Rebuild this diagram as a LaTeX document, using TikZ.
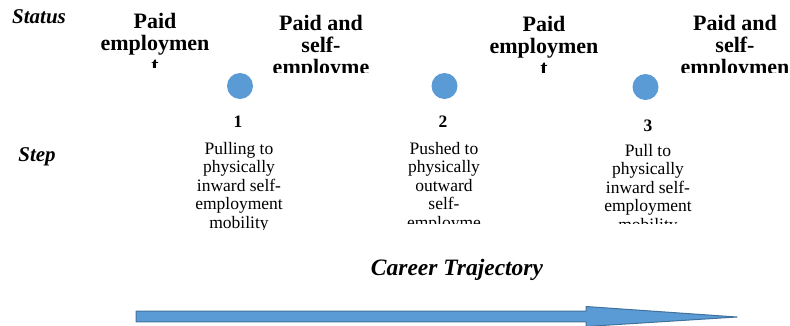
\documentclass[tikz,border=0pt]{standalone}
\usepackage{fontspec}
\setmainfont{Liberation Serif}
\definecolor{dotblue}{HTML}{5B9BD5}
\definecolor{edgeblue}{HTML}{41719C}
\begin{document}
\begin{tikzpicture}[x=1pt,y=-1pt,line join=round,
	status/.style={inner sep=0,align=center,anchor=north,font=\fontsize{22}{22}\selectfont\bfseries},
	stepno/.style={inner sep=0,font=\fontsize{17.5}{18.5}\selectfont\bfseries},
	stepbody/.style={inner sep=0,align=center,anchor=north,font=\fontsize{17.5}{18.5}\selectfont},
	rowlabel/.style={inner sep=0,font=\fontsize{21}{21}\selectfont\bfseries\itshape},
	dot/.style={circle,fill=dotblue,minimum size=26pt,inner sep=0}]
	\useasboundingbox (0,0) rectangle (790,325);
	\path (39,17)node[rowlabel](status){Status}
	(37,157)node[rowlabel](step){Step};
	% status boxes, cut off at the bottom
	\begin{scope}
	\clip (90,0) rectangle (220,67);
	\path (155,13)node[status](s1){Paid\\employmen\\t};
	\end{scope}
	\begin{scope}
	\clip (260,0) rectangle (385,72);
	\path (321,15)node[status](s2){Paid and\\self-\\employme};
	\end{scope}
	\begin{scope}
	\clip (480,0) rectangle (610,72);
	\path (544,16)node[status](s3){Paid\\employmen\\t};
	\end{scope}
	\begin{scope}
	\clip (670,0) rectangle (790,72);
	\path (735,15)node[status](s4){Paid and\\self-\\employmen};
	\end{scope}
	% steps
	\path (240,86)node[dot](d1){}
	(444.5,86)node[dot](d2){}
	(645.5,87)node[dot](d3){};
	\path (238,122)node[stepno](n1){1}
	(443,122)node[stepno](n2){2}
	(648,126)node[stepno](n3){3};
	\begin{scope}
	\clip (170,130) rectangle (310,229);
	\path (239,142)node[stepbody](b1){Pulling to\\physically\\inward self-\\employment\\mobility};
	\end{scope}
	\begin{scope}
	\clip (375,130) rectangle (515,223);
	\path (444,142)node[stepbody](b2){Pushed to\\physically\\outward\\self-\\employme};
	\end{scope}
	\begin{scope}
	\clip (580,130) rectangle (720,223);
	\path (648,144)node[stepbody](b3){Pull to\\physically\\inward self-\\employment\\mobility};
	\end{scope}
	% trajectory
	\path (457,270)node[inner sep=0,font=\fontsize{23.5}{23.5}\selectfont\bfseries\itshape](career){Career Trajectory};
	\path (136,316.5)coordinate(tail) (737,317)coordinate(tip);
	\filldraw[fill=dotblue,draw=edgeblue,line width=1pt]
	(tail)++(0,-5.3) -- (586,311.2) -- (586,306.5) -- (tip) -- (586,326.5)
	-- (586,321.8) -- (136,321.8) -- cycle;
\end{tikzpicture}
\end{document}
